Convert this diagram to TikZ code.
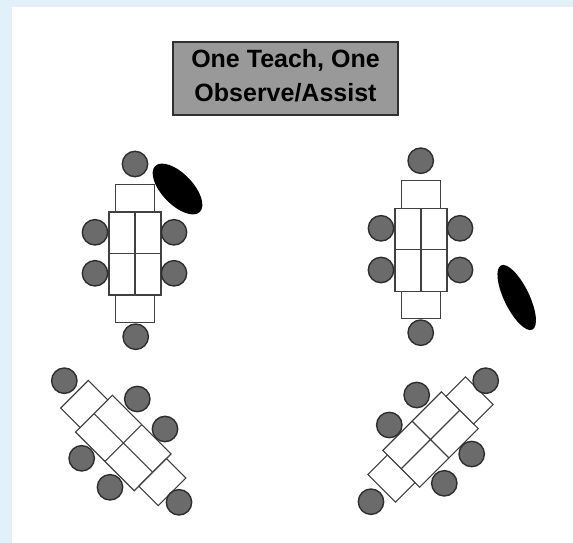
\documentclass[tikz,border=0pt]{standalone}
\usepackage{fontspec}
\setmainfont{Liberation Sans}
\usetikzlibrary{shapes.geometric}
\definecolor{bgblue}{HTML}{E2F1F9}
\definecolor{boxgray}{HTML}{999999}
\definecolor{boxline}{HTML}{303030}
\definecolor{chairfill}{HTML}{6B6B6B}
\definecolor{chairline}{HTML}{2E2E2E}
\definecolor{deskline}{HTML}{404040}
\tikzset{
  chair/.style={circle, draw=chairline, fill=chairfill, line width=1.4pt, minimum size=25.4pt, inner sep=0pt},
  desk/.style={draw=deskline, fill=white, line width=1.1pt},
  teacher/.style={ellipse, fill=black, inner sep=0pt},
  titletext/.style={font=\bfseries\fontsize{25}{30}\selectfont, anchor=base, inner sep=0pt},
  deskgroup/.pic={
    \draw[desk] (-26,-41.5) rectangle (26,41.5);
    \draw[desk] (-19.5,-69) rectangle (19.5,-41.5);
    \draw[desk] (-19.5,41.5) rectangle (19.5,69);
    \draw[desk] (0,-41.5) -- (0,41.5) (-26,0) -- (26,0);
  }
}
\begin{document}
\begin{tikzpicture}[x=1pt,y=-1pt]
\useasboundingbox (0,0) rectangle (573,543);
\fill[bgblue] (0,0) rectangle (573,543);
\fill[white] (11.5,7) rectangle (573,543);
% title
\node[draw=boxline, fill=boxgray, line width=1.5pt, minimum width=225pt, minimum height=73pt, inner sep=0pt] (title) at (285.5,78.5) {};
\node[titletext] (t1) at (285.5,67.3) {One Teach, One};
\node[titletext] (t2) at (285.5,101) {Observe/Assist};
% desks
\pic at (135,253.5) {deskgroup};
\pic at (421,249.7) {deskgroup};
\pic[rotate=45] at (123.3,443) {deskgroup};
\pic[rotate=-45] at (430.5,439.5) {deskgroup};
% teachers
\node[teacher, minimum width=64pt, minimum height=31pt, rotate=-46] (teachA) at (177.5,189) {};
\node[teacher, minimum width=71.4pt, minimum height=25pt, rotate=-64] (teachB) at (516.7,297.5) {};
% chairs top-left
\node[chair] (a1) at (135,164) {};
\node[chair] (a2) at (95,232.3) {};
\node[chair] (a3) at (95,273.3) {};
\node[chair] (a4) at (174,232.3) {};
\node[chair] (a5) at (174,273.3) {};
\node[chair] (a6) at (135.7,336.7) {};
% chairs top-right
\node[chair] (b1) at (420.7,160.7) {};
\node[chair] (b2) at (381,228.3) {};
\node[chair] (b3) at (381,270) {};
\node[chair] (b4) at (460,228.3) {};
\node[chair] (b5) at (460,270) {};
\node[chair] (b6) at (420.7,332.7) {};
% chairs bottom-left
\node[chair] (c1) at (64.3,380.7) {};
\node[chair] (c2) at (137.3,399) {};
\node[chair] (c3) at (165,429) {};
\node[chair] (c4) at (81.7,458.3) {};
\node[chair] (c5) at (110,487.3) {};
\node[chair] (c6) at (179,502.3) {};
% chairs bottom-right
\node[chair] (d1) at (485.7,380.7) {};
\node[chair] (d2) at (416.7,395) {};
\node[chair] (d3) at (389.3,425) {};
\node[chair] (d4) at (471.7,454) {};
\node[chair] (d5) at (444.3,483.3) {};
\node[chair] (d6) at (371,501.7) {};
\end{tikzpicture}
\end{document}
